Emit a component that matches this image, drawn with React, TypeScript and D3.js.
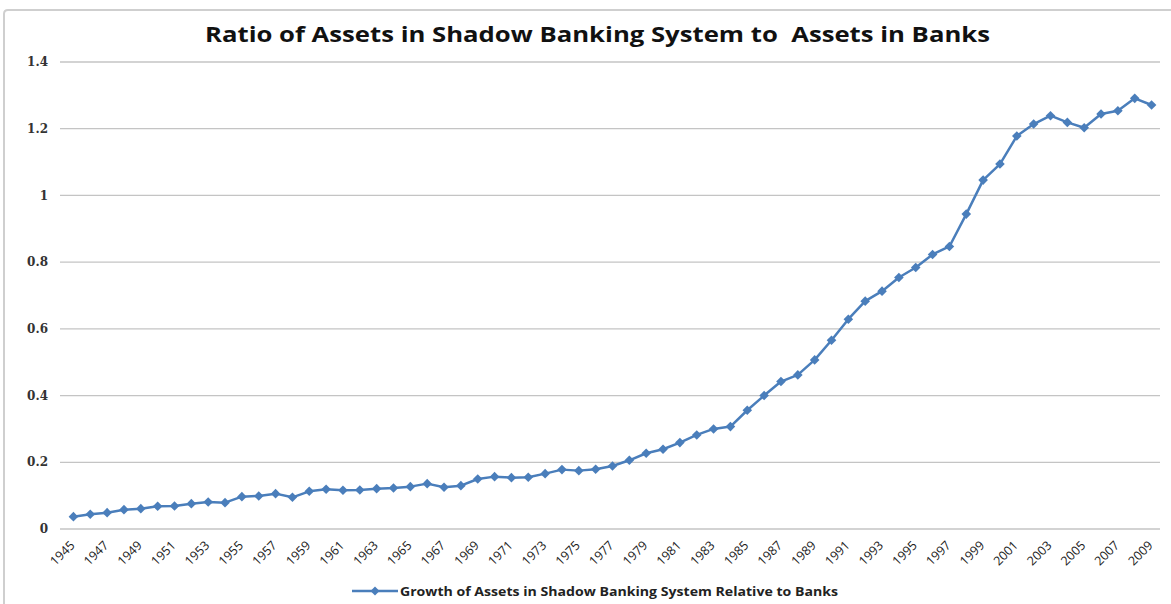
import React from "react";
import * as d3 from "d3";

const years: number[] = d3.range(1945, 2010);
const values: number[] = [
  0.037, 0.044, 0.049, 0.058, 0.061, 0.068, 0.069, 0.076, 0.081, 0.079,
  0.097, 0.099, 0.106, 0.095, 0.113, 0.119, 0.116, 0.117, 0.121, 0.123,
  0.127, 0.136, 0.125, 0.130, 0.150, 0.157, 0.154, 0.155, 0.166, 0.178,
  0.175, 0.179, 0.189, 0.206, 0.227, 0.239, 0.259, 0.282, 0.300, 0.307,
  0.356, 0.400, 0.442, 0.462, 0.507, 0.566, 0.629, 0.683, 0.713, 0.754,
  0.784, 0.823, 0.847, 0.944, 1.046, 1.094, 1.178, 1.214, 1.239, 1.219,
  1.203, 1.244, 1.254, 1.291, 1.271,
];
const yTicks: number[] = [0, 0.2, 0.4, 0.6, 0.8, 1, 1.2, 1.4];
const xTickLabels: string[] = years.filter((_, i) => i % 2 === 0).map(String);
const title = "Ratio of Assets in Shadow Banking System to  Assets in Banks";
const seriesName = "Growth of Assets in Shadow Banking System Relative to Banks";

const W = 1171;
const H = 604;
const BLUE = "#4a7ebb";
const GRID = "#c4c4c4";

export default function App() {
  const x = d3
    .scaleBand<string>()
    .domain(years.map(String))
    .range([65, 1160]);
  const cx = (y: string) => (x(y) as number) + x.bandwidth() / 2;
  const y = d3.scaleLinear().domain([0, 1.4]).range([529, 62]);

  const line = d3
    .line<number>()
    .x((_, i) => cx(String(years[i])))
    .y((d) => y(d));

  const diamond = (px: number, py: number, r: number) =>
    `M${px},${py - r}L${px + r},${py}L${px},${py + r}L${px - r},${py}Z`;

  const fmt = (v: number) => (v === 0 ? "0" : d3.format("~g")(v));

  return (
    <svg
      width={W}
      height={H}
      style={{ position: "absolute", left: 0, top: 0, background: "#fff" }}
    >
      {/* frame */}
      <path
        d={`M4,${H}L4,14Q4,10 8,10L${W},10`}
        fill="none"
        stroke="#cfcfcf"
        strokeWidth={2}
      />
      {/* title */}
      <text
        x={205}
        y={42}
        fontFamily="'Open Sans', sans-serif"
        fontWeight="bold"
        fontSize={20.5}
        textLength={785}
        lengthAdjust="spacingAndGlyphs"
        fill="#111"
        style={{ whiteSpace: "pre" }}
      >
        {title}
      </text>
      {/* gridlines */}
      {yTicks.map((t) => (
        <line
          key={t}
          x1={60}
          x2={1160}
          y1={y(t)}
          y2={y(t)}
          stroke={GRID}
          strokeWidth={1.3}
        />
      ))}
      {/* y labels */}
      {yTicks.map((t) => (
        <text
          key={"l" + t}
          x={48}
          y={y(t)}
          dy="0.35em"
          textAnchor="end"
          fontFamily="'DejaVu Serif', serif"
          fontWeight="bold"
          fontSize={12}
          fill="#333"
        >
          {fmt(t)}
        </text>
      ))}
      {/* x labels */}
      {xTickLabels.map((lab) => {
        const px = cx(lab) - 1;
        const py = 543;
        return (
          <text
            key={lab}
            transform={`translate(${px},${py}) rotate(-45)`}
            dy="0.35em"
            textAnchor="end"
            fontFamily="'Open Sans', sans-serif"
            fontSize={12.5}
            fill="#222"
          >
            {lab}
          </text>
        );
      })}
      {/* series */}
      <path
        d={line(values) || ""}
        fill="none"
        stroke={BLUE}
        strokeWidth={2.5}
        strokeLinejoin="round"
      />
      {values.map((v, i) => (
        <path
          key={i}
          d={diamond(cx(String(years[i])), y(v), 4.8)}
          fill={BLUE}
        />
      ))}
      {/* legend */}
      <line x1={352} x2={398} y1={591} y2={591} stroke={BLUE} strokeWidth={2.5} />
      <path d={diamond(375, 591, 4.5)} fill={BLUE} />
      <text
        x={400}
        y={595.5}
        fontFamily="'Open Sans', sans-serif"
        fontWeight="bold"
        fontSize={12}
        textLength={438}
        lengthAdjust="spacingAndGlyphs"
        fill="#222"
      >
        {seriesName}
      </text>
    </svg>
  );
}
